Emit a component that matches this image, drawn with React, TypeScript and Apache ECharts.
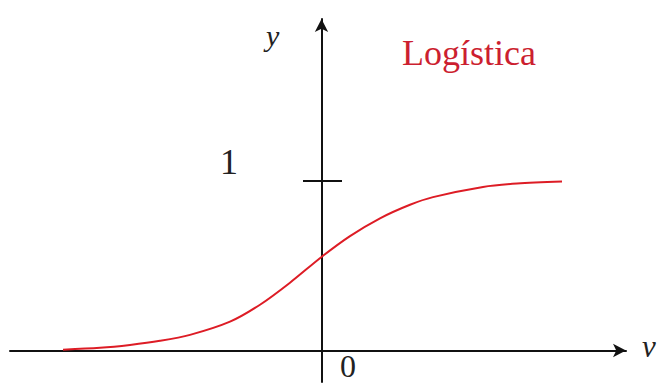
import React, { useEffect, useRef } from "react";
import * as echarts from "echarts";

const xValues = [-5.17, -4.43, -3.83, -3.23, -2.63, -1.83, -1.23, -0.63, 0, 0.57, 1.17, 1.77, 2.23, 3.23, 3.91, 4.81];
const yValues = [0.005, 0.016, 0.033, 0.057, 0.092, 0.17, 0.27, 0.4, 0.552, 0.675, 0.78, 0.86, 0.905, 0.965, 0.985, 0.997];
const tickY = 1;
const tickHalfLeft = -0.37;
const tickHalfRight = 0.41;
const title = "Logística";

export default function App() {
  const ref = useRef<HTMLDivElement>(null);
  useEffect(() => {
    if (!ref.current) return;
    const chart = echarts.init(ref.current, null, { renderer: "svg" });
    const serif = "'Liberation Serif', 'DejaVu Serif', serif";
    chart.setOption({
      animation: false,
      backgroundColor: "#ffffff",
      grid: { left: 10, right: 31, top: 19, bottom: 1 },
      xAxis: {
        type: "value",
        min: -6.23,
        max: 6.09,
        axisLine: {
          show: true,
          onZero: true,
          symbol: ["none", "arrow"],
          symbolSize: [10, 13],
          lineStyle: { color: "#111111", width: 2 },
        },
        axisTick: { show: false },
        axisLabel: { show: false },
        splitLine: { show: false },
      },
      yAxis: {
        type: "value",
        min: -0.186,
        max: 1.956,
        axisLine: {
          show: true,
          onZero: true,
          symbol: ["none", "arrow"],
          symbolSize: [10, 13],
          lineStyle: { color: "#111111", width: 2 },
        },
        axisTick: { show: false },
        axisLabel: { show: false },
        splitLine: { show: false },
      },
      series: [
        {
          type: "line",
          smooth: 0.3,
          showSymbol: false,
          symbol: "none",
          data: xValues.map((x, i) => [x, yValues[i]]),
          lineStyle: { color: "#dd1c25", width: 2 },
          z: 3,
          markLine: {
            silent: true,
            symbol: ["none", "none"],
            label: { show: false },
            lineStyle: { color: "#111111", width: 2, type: "solid" },
            data: [[{ coord: [tickHalfLeft, tickY] }, { coord: [tickHalfRight, tickY] }]],
          },
        },
      ],
      graphic: [
        { type: "text", left: 266, top: 20, style: { text: "y", font: `italic 30px ${serif}`, fill: "#222" } },
        { type: "text", left: 220, top: 144, style: { text: "1", font: `36px ${serif}`, fill: "#222" } },
        { type: "text", left: 340, top: 350, style: { text: "0", font: `32px ${serif}`, fill: "#222" } },
        { type: "text", left: 642, top: 331, style: { text: "v", font: `italic 31px ${serif}`, fill: "#222" } },
        { type: "text", left: 402, top: 35, style: { text: title, font: `36px ${serif}`, fill: "#cc1f30" } },
      ],
    });
    return () => chart.dispose();
  }, []);
  return <div ref={ref} style={{ width: 657, height: 383, position: "absolute", left: 0, top: 0 }} />;
}
